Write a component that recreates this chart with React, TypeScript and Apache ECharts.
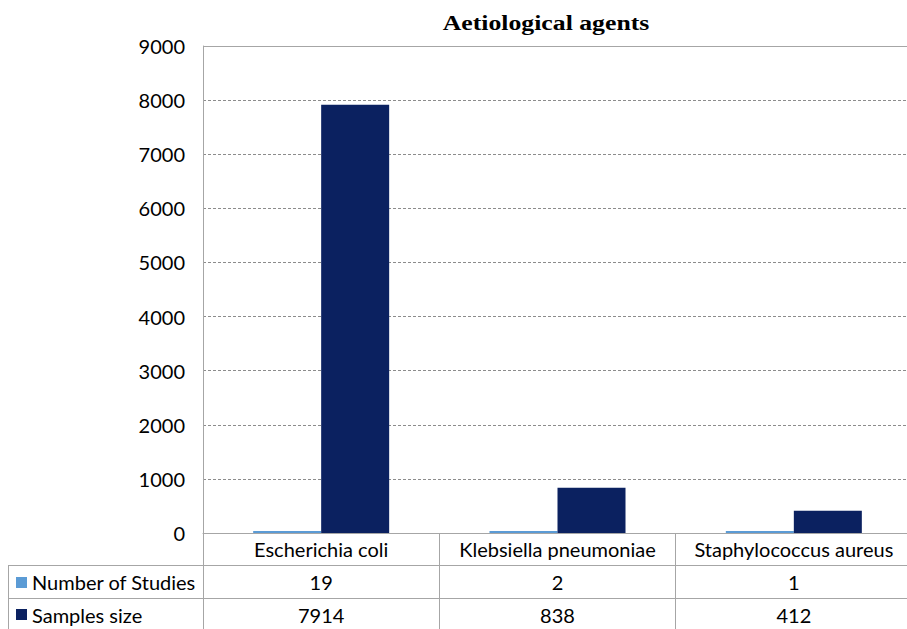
import React, { useEffect, useRef } from "react";
import * as echarts from "echarts";

const categories = ["Escherichia coli", "Klebsiella pneumoniae", "Staphylococcus aureus"];
const numberOfStudies = [19, 2, 1];
const samplesSize = [7914, 838, 412];
const seriesNames = ["Number of Studies", "Samples size"];
const yMin = 0;
const yMax = 9000;
const yInterval = 1000;

const LIGHT = "#5B9BD5";
const DARK = "#0B2160";
const BORDER = "#A6A6A6";
const FONT = "Lato";
const FS = 20;

export default function App() {
  const ref = useRef<HTMLDivElement>(null);
  useEffect(() => {
    if (!ref.current) return;
    const chart = echarts.init(ref.current, null, { renderer: "svg" });
    const gridLeft = 203;
    const gridTop = 46;
    const gridBottom = 96;
    const W = 912;
    const H = 629;
    chart.setOption({
      animation: false,
      grid: { left: gridLeft, right: 0, top: gridTop, bottom: gridBottom },
      xAxis: {
        type: "category",
        data: categories,
        axisLine: { lineStyle: { color: BORDER, width: 1 } },
        axisTick: { show: true, alignWithLabel: false, length: gridBottom, lineStyle: { color: BORDER } },
        axisLabel: { interval: 0, hideOverlap: false, fontFamily: FONT, fontSize: FS, color: "#000", margin: 6 },
      },
      yAxis: {
        type: "value",
        min: yMin,
        max: yMax,
        interval: yInterval,
        axisLine: { show: true, lineStyle: { color: BORDER } },
        axisTick: { show: false },
        splitLine: { lineStyle: { color: "#8C8C8C", type: [3, 2], width: 1 } },
        axisLabel: { fontFamily: FONT, fontSize: FS, color: "#000", margin: 18, formatter: (v: number) => String(v) },
      },
      series: [
        { name: seriesNames[0], type: "bar", data: numberOfStudies, barWidth: 68, barGap: "0%", barMinHeight: 2, itemStyle: { color: LIGHT } },
        { name: seriesNames[1], type: "bar", data: samplesSize, barWidth: 68, barGap: "0%", itemStyle: { color: DARK } },
      ],
    });

    const row1Y = 582;
    const row2Y = 615;
    const elements: any[] = [
      { type: "text", x: 546, y: 23, scaleX: 1.17, style: { text: "Aetiological agents", fontFamily: "Liberation Serif", fontWeight: "bold", fontSize: 22, fill: "#000", textAlign: "center", verticalAlign: "middle" } },
      { type: "line", shape: { x1: gridLeft, y1: gridTop + 0.5, x2: W, y2: gridTop + 0.5 }, style: { stroke: BORDER, lineWidth: 1 }, z: 10 },
      { type: "line", shape: { x1: 8, y1: 565.5, x2: W, y2: 565.5 }, style: { stroke: BORDER, lineWidth: 1 } },
      { type: "line", shape: { x1: 8, y1: 598.5, x2: W, y2: 598.5 }, style: { stroke: BORDER, lineWidth: 1 } },
      { type: "line", shape: { x1: 8.5, y1: 565, x2: 8.5, y2: H }, style: { stroke: BORDER, lineWidth: 1 } },
      { type: "rect", shape: { x: 16, y: 577, width: 11, height: 11 }, style: { fill: LIGHT } },
      { type: "rect", shape: { x: 16, y: 609, width: 11, height: 11 }, style: { fill: DARK } },
      { type: "text", x: 32, y: row1Y, style: { text: seriesNames[0], fontFamily: FONT, fontSize: FS, fill: "#000", verticalAlign: "middle", textAlign: "left" } },
      { type: "text", x: 32, y: row2Y, style: { text: seriesNames[1], fontFamily: FONT, fontSize: FS, fill: "#000", verticalAlign: "middle", textAlign: "left" } },
    ];
    categories.forEach((c, i) => {
      const px = chart.convertToPixel({ xAxisIndex: 0 }, i) as number;
      elements.push({ type: "text", x: px, y: row1Y, style: { text: String(numberOfStudies[i]), fontFamily: FONT, fontSize: FS, fill: "#000", textAlign: "center", verticalAlign: "middle" } });
      elements.push({ type: "text", x: px, y: row2Y, style: { text: String(samplesSize[i]), fontFamily: FONT, fontSize: FS, fill: "#000", textAlign: "center", verticalAlign: "middle" } });
    });
    chart.setOption({ graphic: { elements } });
    return () => chart.dispose();
  }, []);
  return (
    <div style={{ position: "absolute", left: 0, top: 0, width: 907, height: 629, overflow: "hidden", background: "#fff" }}>
      <div ref={ref} style={{ width: 912, height: 629 }} />
    </div>
  );
}
